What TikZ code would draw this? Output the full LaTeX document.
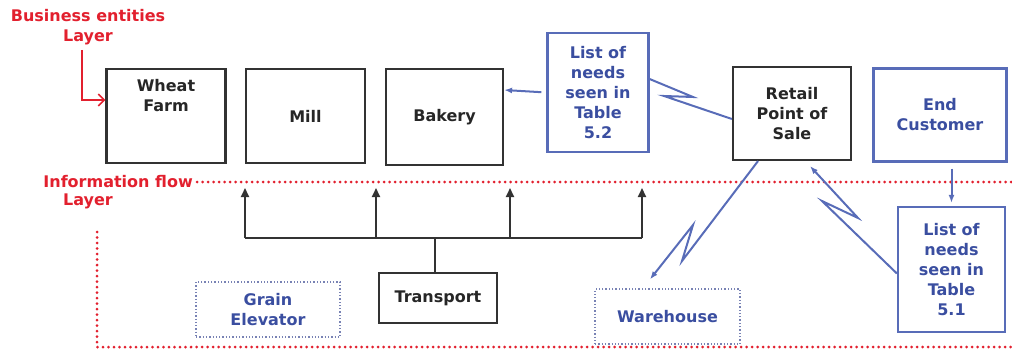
\documentclass[tikz,border=0pt]{standalone}
\usepackage{fontspec}
\setmainfont{DejaVu Sans}
\usetikzlibrary{arrows.meta}
\definecolor{layerred}{RGB}{226,32,46}
\definecolor{infoblue}{RGB}{58,78,160}
\definecolor{edgeblue}{RGB}{88,108,184}
\definecolor{dotblue}{RGB}{120,130,180}
\definecolor{boxgray}{RGB}{50,50,50}
\tikzset{
  txt/.style={font=\bfseries\fontsize{16}{20}\selectfont, align=center, inner sep=0pt},
  entity/.style={draw=boxgray, line width=2.2pt, txt, text=black!85},
  needs/.style={draw=edgeblue, line width=2.2pt, txt, text=infoblue},
  support/.style={draw=dotblue, line width=1.3pt, dotted, txt, text=infoblue},
  layer/.style={txt, text=layerred},
  redline/.style={draw=layerred, line width=3pt, line cap=round, dash pattern=on 0pt off 5.5pt},
  flow/.style={draw=black!80, line width=2pt},
  flowarrow/.style={flow, -{Triangle[length=9pt,width=8pt]}},
  bluelink/.style={draw=edgeblue, line width=2pt},
  bluearrow/.style={bluelink, -{Latex[length=8pt,width=6pt]}},
  redarrow/.style={draw=layerred, line width=1.6pt, -{Straight Barb[length=6pt,width=12pt]}}
}
\begin{document}
\begin{tikzpicture}[x=1pt,y=-1pt]
\useasboundingbox (0,0) rectangle (1012,350);

% layer captions
\node[layer] (bel) at (88,27) {Business entities\\Layer};
\node[layer, anchor=east] (ifl) at (193,182) {Information flow};
\node[layer] (ifl2) at (88,201) {Layer};

% layer separators
\draw[redline] (ifl.east) ++(4,0) -- (1012,182);
\draw[redline] (97,232) -- (97,347) -- (1012,347);

% business entities
\node[entity, minimum width=119pt, minimum height=94pt] (farm) at (166,116) {};
\node[txt, text=black!85, anchor=north] (farmtxt) at ([yshift=-11pt]farm.north) {Wheat\\Farm};
\node[entity, minimum width=119pt, minimum height=94pt] (mill) at (305.5,116) {Mill};
\node[entity, minimum width=117pt, minimum height=96pt] (bakery) at (444.5,117) {Bakery};
\node[entity, minimum width=118pt, minimum height=93pt] (retail) at (792,113.5) {Retail\\Point of\\Sale};
\node[needs, minimum width=133pt, minimum height=93pt] (endc) at (940,115) {End\\Customer};

% lists of needs
\node[needs, minimum width=101pt, minimum height=119pt] (list52) at (598,92.5) {List of\\needs\\seen in\\Table\\5.2};
\node[needs, minimum width=107pt, minimum height=125pt] (list51) at (951.5,269.5) {List of\\needs\\seen in\\Table\\5.1};

% information flow layer
\node[entity, minimum width=118pt, minimum height=50pt] (transport) at (438,298) {Transport};
\node[support, minimum width=144pt, minimum height=55pt] (grain) at (268,309.5) {Grain\\Elevator};
\node[support, minimum width=145pt, minimum height=55pt] (warehouse) at (667.5,316.5) {Warehouse};

% caption pointer
\coordinate (belfoot) at (82,50);
\draw[redarrow] (belfoot) |- ([yshift=16pt]farm.west);

% transport distribution bus
\coordinate (bus) at (435,238);
\coordinate (busL) at (245,238);
\coordinate (busR) at (642,238);
\draw[flow] (transport.north -| bus) -- (bus);
\draw[flow] (busL) -- (busR);
\foreach \x/\n in {245/a,376/b,510/c,642/d}{
  \coordinate (tip\n) at (\x,188);
  \draw[flowarrow] (\x,238) -- (tip\n);
}

% needs to bakery
\draw[bluearrow, shorten <=5pt] (list52.west) -- ([yshift=27pt]bakery.east);

% retail to list 5.2 (jagged link)
\draw[bluelink] ([yshift=13.5pt]list52.east) -- (693,97) -- (664,96) -- ([yshift=-5.5pt]retail.west);

% end customer to list 5.1
\draw[bluearrow, shorten <=6pt, shorten >=3pt] (endc.south -| list51.north) -- (list51.north);

% list 5.1 back to retail (jagged link)
\draw[bluearrow] ([yshift=-4pt]list51.west) -- (822,201) -- (858,218) -- ([xshift=18pt,yshift=-5pt]retail.south);

% retail to warehouse (jagged link)
\draw[bluearrow] ([xshift=-34pt]retail.south) -- (682,261) -- (693,225) -- ([xshift=-17.5pt,yshift=9pt]warehouse.north);
\end{tikzpicture}
\end{document}
